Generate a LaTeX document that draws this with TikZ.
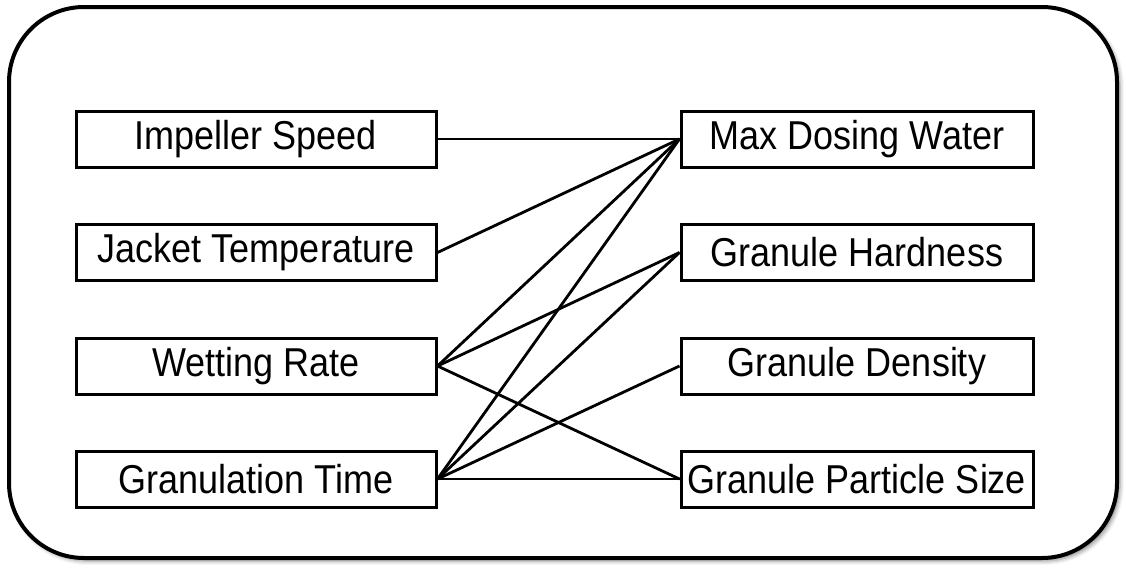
\documentclass[tikz,border=0pt]{standalone}
\usepackage{fontspec}
\setmainfont{Liberation Sans}
\usetikzlibrary{shadows.blur}
\begin{document}
\begin{tikzpicture}[x=1pt,y=-1pt,
  frame/.style={draw=black, line width=4pt, rounded corners=75pt, fill=white,
    blur shadow={shadow xshift=3pt, shadow yshift=-3pt, shadow blur radius=4pt, shadow opacity=45}},
  factor/.style={draw=black, line width=3pt, fill=white, minimum width=360pt,
    minimum height=56pt, inner sep=0pt, anchor=center,
    font=\fontsize{36pt}{40pt}\selectfont},
  link/.style={draw=black, line width=2.8pt}]
\useasboundingbox (0,0) rectangle (1126,568);
\draw[frame] (9,7) rectangle (1117,558);

% process parameters
\node[factor] (imp) at (256,139) {\scalebox{1}[1.12]{Impeller Speed}};
\node[factor] (jac) at (256,252.5) {\scalebox{1}[1.12]{Jacket Temperature}};
\node[factor] (wet) at (256,366) {\scalebox{1}[1.12]{Wetting Rate}};
\node[factor] (gtm) at (256,479) {\scalebox{1}[1.12]{Granulation Time}};

% quality attributes
\node[factor, minimum width=352pt] (mdw) at (857,139) {\scalebox{1}[1.12]{Max Dosing Water}};
\node[factor, minimum width=352pt] (ghd) at (857,252.5) {\scalebox{1}[1.12]{Granule Hardness}};
\node[factor, minimum width=352pt] (gdn) at (857,366) {\scalebox{1}[1.12]{Granule Density}};
\node[factor, minimum width=352pt] (gps) at (857,479) {\scalebox{1}[1.12]{Granule Particle Size}};

% influence links
\draw[link] (imp.east) -- (mdw.west);
\draw[link] (jac.east) -- (mdw.west);
\draw[link] (wet.east) -- (mdw.west);
\draw[link] (wet.east) -- (ghd.west);
\draw[link] (wet.east) -- (gps.west);
\draw[link] (gtm.east) -- (mdw.west);
\draw[link] (gtm.east) -- (ghd.west);
\draw[link] (gtm.east) -- (gdn.west);
\draw[link] (gtm.east) -- (gps.west);
\end{tikzpicture}
\end{document}
